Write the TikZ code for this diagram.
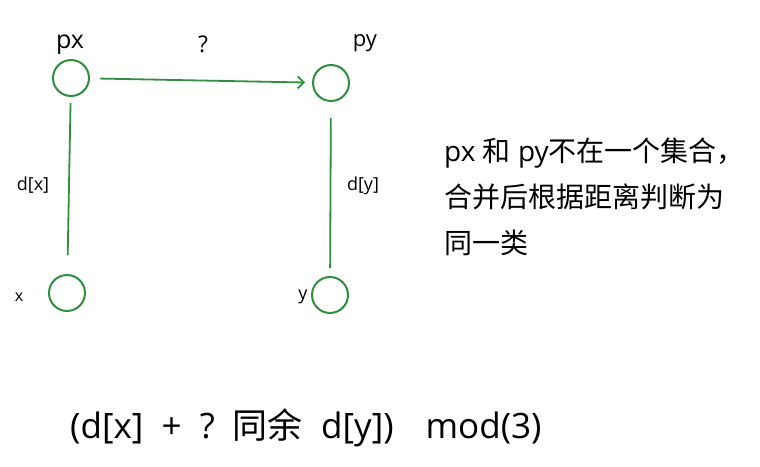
\documentclass[tikz,border=0pt]{standalone}
\usepackage{fontspec}
\setmainfont{Open Sans}
\newfontfamily\cjk{Noto Sans CJK SC}
\usetikzlibrary{arrows.meta,positioning}
\definecolor{linkgreen}{HTML}{2F8F3F}

\begin{document}
\begin{tikzpicture}[
  x=1pt, y=-1pt,
  vert/.style={circle, draw=linkgreen, line width=2pt, minimum size=36pt, inner sep=0pt},
  link/.style={draw=linkgreen, line width=1.8pt},
  arr/.style={link, -{Straight Barb[length=6pt, width=12pt]}},
  lbl/.style={font=\fontsize{18}{20}\selectfont, inner sep=0pt}
]
\useasboundingbox (0,0) rectangle (760,466);
\node[vert] (px) at (71,78) {};
\node[vert] (py) at (331,83) {};
\node[vert] (x) at (67,293) {};
\node[vert] (y) at (330,295) {};
\node[lbl, font=\fontsize{25}{27}\selectfont] (pxl) at (70,45) {px};
\node[lbl, font=\fontsize{22}{24}\selectfont] (pyl) at (365,43) {py};
\node[lbl, font=\fontsize{23}{25}\selectfont] (q) at (203,44) {?};
\node[lbl] (dx) at (33,185) {d[x]};
\node[lbl] (dy) at (363,186) {d[y]};
\node[lbl, font=\fontsize{16}{18}\selectfont] (xl) at (19,297) {x};
\node[lbl, font=\fontsize{18}{20}\selectfont] (yl) at (303,297) {y};
\draw[arr, shorten <=10pt, shorten >=7pt] (px) -- (py);
\draw[link, shorten <=6pt, shorten >=19pt] (px) -- (x);
\draw[link, shorten <=16pt, shorten >=8pt] (py) -- (y);
\node[anchor=north west, align=left, inner sep=0pt, font=\fontsize{28}{46}\selectfont] (note) at (444,138)
  {px {\cjk 和} py{\cjk 不在一个集合，}\\{\cjk 合并后根据距离判断为}\\{\cjk 同一类}};
\node[anchor=west, inner sep=0pt, font=\fontsize{35}{38}\selectfont] (rule) at (70,428)
  {(d[x]\ \ +\ \ ?\ \ {\cjk 同余}\ \ d[y])\hspace{32pt}mod(3)};
\end{tikzpicture}
\end{document}
